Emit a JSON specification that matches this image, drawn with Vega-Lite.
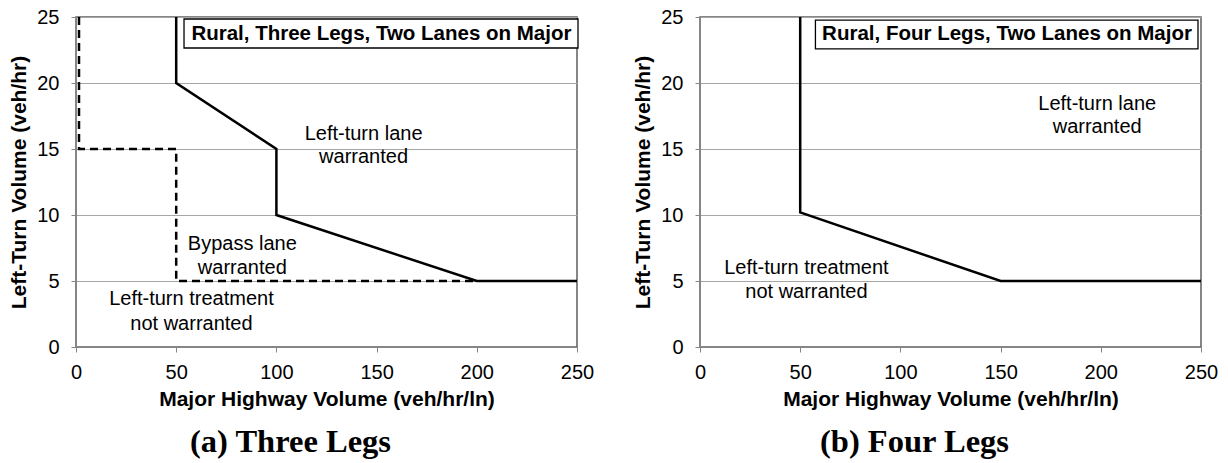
{
  "$schema": "https://vega.github.io/schema/vega-lite/v6.json",
  "padding": {"left": 8, "top": 6, "right": 5, "bottom": 0},
  "background": "white",
  "spacing": 37,
  "config": {
    "view": {"stroke": "#5f5f5f", "strokeWidth": 1.5},
    "font": "Liberation Sans",
    "axis": {
      "labelFont": "Liberation Sans", "labelFontSize": 20, "labelColor": "black",
      "titleFont": "Liberation Sans", "titleFontSize": 21, "titleFontWeight": "bold", "titleColor": "black",
      "domainColor": "#868686", "tickColor": "#868686", "tickSize": 5,
      "gridColor": "#a6a6a6", "gridWidth": 1, "labelFlush": false, "labelOverlap": false
    },
    "axisX": {"labelPadding": 10, "titlePadding": 6},
    "axisY": {"labelPadding": 12, "titlePadding": 7},
    "title": {"font": "Liberation Serif", "fontSize": 32.5, "fontWeight": "bold", "color": "black"}
  },
  "datasets": {
    "lines": [
      {"panel": "a", "style": "solid", "i": 0, "x": 50, "y": 25},
      {"panel": "a", "style": "solid", "i": 1, "x": 50, "y": 20},
      {"panel": "a", "style": "solid", "i": 2, "x": 100, "y": 15},
      {"panel": "a", "style": "solid", "i": 3, "x": 100, "y": 10},
      {"panel": "a", "style": "solid", "i": 4, "x": 200, "y": 5},
      {"panel": "a", "style": "solid", "i": 5, "x": 250, "y": 5},
      {"panel": "a", "style": "dashed", "i": 0, "x": 1.5, "y": 25},
      {"panel": "a", "style": "dashed", "i": 1, "x": 1.5, "y": 15},
      {"panel": "a", "style": "dashed", "i": 2, "x": 50, "y": 15},
      {"panel": "a", "style": "dashed", "i": 3, "x": 50, "y": 5},
      {"panel": "a", "style": "dashed", "i": 4, "x": 200, "y": 5},
      {"panel": "b", "style": "solid", "i": 0, "x": 50, "y": 25},
      {"panel": "b", "style": "solid", "i": 1, "x": 50, "y": 10.2},
      {"panel": "b", "style": "solid", "i": 2, "x": 150, "y": 5},
      {"panel": "b", "style": "solid", "i": 3, "x": 250, "y": 5}
    ],
    "labels": [
      {"panel": "a", "x": 143.5, "y": 16.1, "text": "Left-turn lane"},
      {"panel": "a", "x": 143.5, "y": 14.4, "text": "warranted"},
      {"panel": "a", "x": 83, "y": 7.8, "text": "Bypass lane"},
      {"panel": "a", "x": 83, "y": 5.95, "text": "warranted"},
      {"panel": "a", "x": 57.6, "y": 3.6, "text": "Left-turn treatment"},
      {"panel": "a", "x": 57.6, "y": 1.77, "text": "not warranted"},
      {"panel": "b", "x": 198.2, "y": 18.4, "text": "Left-turn lane"},
      {"panel": "b", "x": 198.2, "y": 16.64, "text": "warranted"},
      {"panel": "b", "x": 53.1, "y": 5.95, "text": "Left-turn treatment"},
      {"panel": "b", "x": 53.1, "y": 4.13, "text": "not warranted"}
    ],
    "boxes": [
      {"panel": "a", "x": 53.9, "x2": 250.5, "y": 24.85, "y2": 22.65},
      {"panel": "b", "x": 57.6, "x2": 248.5, "y": 24.77, "y2": 22.58}
    ],
    "boxlabels": [
      {"panel": "a", "x": 152.4, "y": 23.75, "text": "Rural, Three Legs, Two Lanes on Major"},
      {"panel": "b", "x": 153.2, "y": 23.68, "text": "Rural, Four Legs, Two Lanes on Major"}
    ]
  },
  "hconcat": [
    {
      "width": 501,
      "height": 330,
      "title": {"text": "(a) Three Legs", "orient": "bottom", "anchor": "middle", "frame": "group", "dx": -36, "offset": 17},
      "encoding": {
        "x": {"field": "x", "type": "quantitative", "scale": {"domain": [0, 250], "nice": false},
              "axis": {"values": [0, 50, 100, 150, 200, 250], "title": "Major Highway Volume (veh/hr/ln)", "grid": false}},
        "y": {"field": "y", "type": "quantitative", "scale": {"domain": [0, 25], "nice": false},
              "axis": {"values": [0, 5, 10, 15, 20, 25], "title": "Left-Turn Volume (veh/hr)", "grid": true}}
      },
      "layer": [
        {
          "data": {"name": "lines"},
          "transform": [{"filter": "datum.panel == 'a' && datum.style == 'dashed'"}],
          "mark": {"type": "line", "color": "black", "strokeWidth": 2.5, "strokeDash": [8, 5]},
          "encoding": {"order": {"field": "i", "type": "quantitative"}}
        },
        {
          "data": {"name": "lines"},
          "transform": [{"filter": "datum.panel == 'a' && datum.style == 'solid'"}],
          "mark": {"type": "line", "color": "black", "strokeWidth": 2.5},
          "encoding": {"order": {"field": "i", "type": "quantitative"}}
        },
        {
          "data": {"name": "boxes"},
          "transform": [{"filter": "datum.panel == 'a'"}],
          "mark": {"type": "rect", "fill": "white", "stroke": "black", "strokeWidth": 1.3},
          "encoding": {"x2": {"field": "x2"}, "y2": {"field": "y2"}}
        },
        {
          "data": {"name": "boxlabels"},
          "transform": [{"filter": "datum.panel == 'a'"}],
          "mark": {"type": "text", "font": "Liberation Sans", "fontSize": 20.5, "fontWeight": "bold", "color": "black", "align": "center", "baseline": "middle"},
          "encoding": {"text": {"field": "text"}}
        },
        {
          "data": {"name": "labels"},
          "transform": [{"filter": "datum.panel == 'a'"}],
          "mark": {"type": "text", "font": "Liberation Sans", "fontSize": 20, "color": "black", "align": "center", "baseline": "middle"},
          "encoding": {"text": {"field": "text"}}
        }
      ]
    },
    {
      "width": 501,
      "height": 330,
      "title": {"text": "(b) Four Legs", "orient": "bottom", "anchor": "middle", "frame": "group", "dx": -36, "offset": 17},
      "encoding": {
        "x": {"field": "x", "type": "quantitative", "scale": {"domain": [0, 250], "nice": false},
              "axis": {"values": [0, 50, 100, 150, 200, 250], "title": "Major Highway Volume (veh/hr/ln)", "grid": false}},
        "y": {"field": "y", "type": "quantitative", "scale": {"domain": [0, 25], "nice": false},
              "axis": {"values": [0, 5, 10, 15, 20, 25], "title": "Left-Turn Volume (veh/hr)", "grid": true}}
      },
      "layer": [
        {
          "data": {"name": "lines"},
          "transform": [{"filter": "datum.panel == 'b' && datum.style == 'solid'"}],
          "mark": {"type": "line", "color": "black", "strokeWidth": 2.5},
          "encoding": {"order": {"field": "i", "type": "quantitative"}}
        },
        {
          "data": {"name": "boxes"},
          "transform": [{"filter": "datum.panel == 'b'"}],
          "mark": {"type": "rect", "fill": "white", "stroke": "black", "strokeWidth": 1.3},
          "encoding": {"x2": {"field": "x2"}, "y2": {"field": "y2"}}
        },
        {
          "data": {"name": "boxlabels"},
          "transform": [{"filter": "datum.panel == 'b'"}],
          "mark": {"type": "text", "font": "Liberation Sans", "fontSize": 20.5, "fontWeight": "bold", "color": "black", "align": "center", "baseline": "middle"},
          "encoding": {"text": {"field": "text"}}
        },
        {
          "data": {"name": "labels"},
          "transform": [{"filter": "datum.panel == 'b'"}],
          "mark": {"type": "text", "font": "Liberation Sans", "fontSize": 20, "color": "black", "align": "center", "baseline": "middle"},
          "encoding": {"text": {"field": "text"}}
        }
      ]
    }
  ]
}
